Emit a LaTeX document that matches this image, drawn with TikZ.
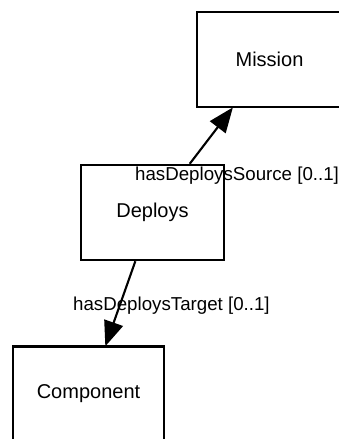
\documentclass[tikz,border=0pt]{standalone}
\usepackage{fontspec}
\setmainfont{Liberation Sans}
\usetikzlibrary{arrows.meta}
\begin{document}
\begin{tikzpicture}[x=1pt,y=-1pt,
  cls/.style={draw, line width=2.4pt, fill=white, minimum width=#1, minimum height=95pt, inner sep=0pt, font=\fontsize{20}{23}\selectfont},
  conn/.style={line width=2.1pt, -{Triangle[length=25pt,width=19.5pt]}, shorten >=-1pt},
  lbl/.style={inner sep=0pt, font=\fontsize{18.7}{21}\selectfont}]
\useasboundingbox (0,0) rectangle (339,439);
\fill[white] (0,0) rectangle (339,439);
\node[cls=145pt] (mission) at (269.5,59.5) {Mission};
\node[cls=143pt] (deploys) at (152.5,212.5) {Deploys};
\node[cls=151pt] (component) at (88.5,394) {Component};
\draw[conn] (deploys) -- (mission);
\draw[conn] (deploys) -- (component);
\node[lbl, anchor=base west] (src) at (135,180) {hasDeploysSource [0..1]};
\node[lbl, anchor=base west] (tgt) at (73,310) {hasDeploysTarget [0..1]};
\end{tikzpicture}
\end{document}
